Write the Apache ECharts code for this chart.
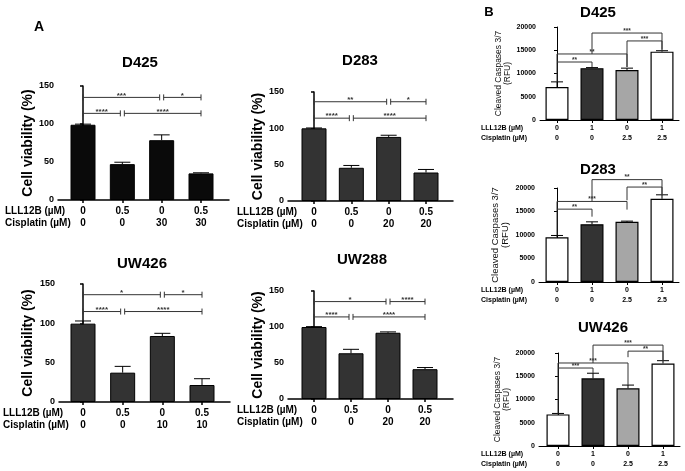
<!DOCTYPE html>
<html><head><meta charset="utf-8">
<script src="https://cdn.jsdelivr.net/npm/echarts@6/dist/echarts.min.js"></script>
<style>html,body{margin:0;padding:0;background:#fff}#c{width:685px;height:471px}</style>
</head><body><div id="c"></div>
<script>
// ---------------- DATA ----------------
const lllA = ['0', '0.5', '0', '0.5'];
const cisD425A = ['0', '0', '30', '30'];
const cisD283A = ['0', '0', '20', '20'];
const cisUW426A = ['0', '0', '10', '10'];
const cisUW288A = ['0', '0', '20', '20'];

const valD425A = [99, 47.2, 78.7, 35];
const errD425A = [0.8, 2.5, 7, 0.8];
const valD283A = [100, 45.7, 88.2, 39.2];
const errD283A = [0.5, 3.2, 2.3, 4.2];
const valUW426A = [99.6, 37.3, 83.9, 21.6];
const errUW426A = [3.4, 8, 3.4, 8];
const valUW288A = [100, 63.5, 92, 41.4];
const errUW288A = [0.5, 5.5, 1.2, 2.3];

// [from, to, level, label]
const sigD425A = [[0, 2, 135, '***'], [2, 3, 135, '*'], [0, 1, 114, '****'], [1, 3, 114, '****']];
const sigD283A = [[0, 2, 136.6, '**'], [2, 3, 136.6, '*'], [0, 1, 114, '****'], [1, 3, 114, '****']];
const sigUW426A = [[0, 2, 136.4, '*'], [2, 3, 136.4, '*'], [0, 1, 115, '****'], [1, 3, 115, '****']];
const sigUW288A = [[0, 2, 135.3, '*'], [2, 3, 135.3, '****'], [0, 1, 114, '****'], [1, 3, 114, '****']];

const lllB = ['0', '1', '0', '1'];
const cisB = ['0', '0', '2.5', '2.5'];
const valD425B = [7100, 11150, 10750, 14700];
const errD425B = [1100, 120, 400, 200];
const valD283B = [9500, 12300, 12800, 17700];
const errD283B = [400, 500, 150, 850];
const valUW426B = [6800, 14550, 12400, 17750];
const errUW426B = [200, 1100, 700, 600];

// [from, to, level, leftEnd, rightEnd, label]
const sigD425B = [[1, 3, 18700, 14200, 15100, '***'], [2, 3, 17000, 11400, 15100, '***'], [0, 2, 14200, 8200, 11400, '**'], [0, 1, 12470, 12470, 11400, '**']];
const sigD283B = [[1, 3, 21780, 17140, 18570, '**'], [2, 3, 20200, 17400, 18570, '**'], [0, 2, 17140, 9930, 15400, '***'], [0, 1, 15500, 15500, 13900, '**']];
const sigUW426B = [[1, 3, 21700, 17850, 18300, '***'], [2, 3, 20400, 19100, 18300, '**'], [0, 2, 17850, 6800, 13100, '***'], [0, 1, 16770, 16770, 15700, '***']];

const titles = ['D425', 'D283', 'UW426', 'UW288', 'D425', 'D283', 'UW426'];
const rowNames = ['LLL12B (\u00b5M)', 'Cisplatin (\u00b5M)'];
const yNameA = 'Cell viability (%)';
const yNameB = 'Cleaved Caspases 3/7\n(RFU)';

// ---------------- LAYOUT ----------------
const FONT = '"Liberation Sans", Arial, Helvetica, sans-serif';
const darkA = '#333333';
const panels = [
  {kind: 'A', title: titles[0], tx: 140, ty: 63, x0: 58, x1: 229, c0: 83, c3: 201, yTop: 86, yBot: 200, lll: lllA, cis: cisD425A, val: valD425A, err: errD425A, sig: sigD425A, colors: ['#0a0a0a', '#0a0a0a', '#0a0a0a', '#0a0a0a'], rowX: 5, nameGap: 22},
  {kind: 'A', title: titles[1], tx: 360, ty: 61, x0: 288, x1: 453, c0: 314, c3: 426, yTop: 92, yBot: 201, lll: lllA, cis: cisD283A, val: valD283A, err: errD283A, sig: sigD283A, colors: [darkA, darkA, darkA, darkA], rowX: 237, nameGap: 18},
  {kind: 'A', title: titles[2], tx: 142, ty: 264, x0: 59, x1: 230, c0: 83, c3: 202, yTop: 284, yBot: 402, lll: lllA, cis: cisUW426A, val: valUW426A, err: errUW426A, sig: sigUW426A, colors: [darkA, darkA, darkA, darkA], rowX: 3, nameGap: 24},
  {kind: 'A', title: titles[3], tx: 362, ty: 260, x0: 288, x1: 453, c0: 314, c3: 425, yTop: 291, yBot: 399, lll: lllA, cis: cisUW288A, val: valUW288A, err: errUW288A, sig: sigUW288A, colors: [darkA, darkA, darkA, darkA], rowX: 237, nameGap: 18},
  {kind: 'B', title: titles[4], tx: 598, ty: 13, x0: 540, x1: 679, c0: 557, c3: 662, yTop: 27, yBot: 120, lll: lllB, cis: cisB, val: valD425B, err: errD425B, sig: sigD425B, colors: ['#ffffff', '#333333', '#a6a6a6', '#ffffff'], rowX: 481, nameGap: 23, nameSize: 8.5},
  {kind: 'B', title: titles[5], tx: 598, ty: 170, x0: 539, x1: 679, c0: 557, c3: 662, yTop: 188, yBot: 282, lll: lllB, cis: cisB, val: valD283B, err: errD283B, sig: sigD283B, colors: ['#ffffff', '#333333', '#a6a6a6', '#ffffff'], rowX: 481, nameGap: 28, nameSize: 9.5},
  {kind: 'B', title: titles[6], tx: 603, ty: 328, x0: 539, x1: 680, c0: 558, c3: 663, yTop: 353, yBot: 446, lll: lllB, cis: cisB, val: valUW426B, err: errUW426B, sig: sigUW426B, colors: ['#ffffff', '#333333', '#a6a6a6', '#ffffff'], rowX: 481, nameGap: 27, nameSize: 8.5}
];

const grid = [], xAxis = [], yAxis = [], series = [], graphic = [];

graphic.push({type: 'text', x: 39, y: 27, style: {text: 'A', font: 'bold 14px ' + FONT, fill: '#000', textAlign: 'center', textVerticalAlign: 'middle'}});
graphic.push({type: 'text', x: 489, y: 12, style: {text: 'B', font: 'bold 13px ' + FONT, fill: '#000', textAlign: 'center', textVerticalAlign: 'middle'}});

panels.forEach((p, k) => {
  const isA = p.kind === 'A';
  const s = (p.c3 - p.c0) / 3;
  const xmin = -(p.c0 - p.x0) / s;
  const xmax = 3 + (p.x1 - p.c3) / s;
  const lineH = isA ? 12 : 10.5;
  const lblMargin = isA ? 5.5 : 2.5;
  const lblFont = isA ? 10 : 7;
  const axisW = isA ? 1.5 : 1;
  grid.push({left: p.x0, top: p.yTop, width: p.x1 - p.x0, height: p.yBot - p.yTop, containLabel: false});
  xAxis.push({
    type: 'value', gridIndex: k, min: xmin, max: xmax,
    axisLine: {show: true, onZero: false, lineStyle: {color: '#000', width: axisW}},
    axisTick: {show: true, length: 3, customValues: [0, 1, 2, 3], lineStyle: {color: '#000', width: axisW}},
    axisLabel: {
      show: true, customValues: [0, 1, 2, 3], margin: lblMargin,
      formatter: v => { const i = Math.round(v); return p.lll[i] + '\n' + p.cis[i]; },
      fontFamily: FONT, fontSize: lblFont, fontWeight: 'bold', color: '#000', lineHeight: lineH
    },
    splitLine: {show: false}
  });
  yAxis.push({
    type: 'value', gridIndex: k, min: 0, max: isA ? 150 : 20000, interval: isA ? 50 : 5000,
    name: isA ? yNameA : yNameB, nameLocation: 'middle', nameGap: p.nameGap,
    nameTextStyle: isA ? {fontFamily: FONT, fontSize: 14, fontWeight: 'bold', color: '#000'}
                       : {fontFamily: FONT, fontSize: p.nameSize, color: '#111', lineHeight: p.nameSize + 1},
    axisLine: {show: true, lineStyle: {color: '#000', width: axisW}},
    axisTick: {show: true, length: 3, lineStyle: {color: '#000', width: axisW}},
    axisLabel: {margin: 4, formatter: v => String(v), fontFamily: FONT, fontSize: isA ? 9 : 7, fontWeight: 'bold', color: '#000'},
    splitLine: {show: false}
  });
  series.push({
    type: 'bar', xAxisIndex: k, yAxisIndex: k, barWidth: isA ? 25 : 23, silent: true, z: 2,
    itemStyle: {borderColor: '#000', borderWidth: isA ? 1 : 1.2},
    data: p.val.map((v, i) => ({value: [i, v], itemStyle: {color: p.colors[i]}}))
  });
  const capHW = isA ? 8 : 6;
  series.push({
    type: 'custom', xAxisIndex: k, yAxisIndex: k, silent: true, z: 3, clip: false,
    data: p.val.map((v, i) => [i, v, p.err[i]]),
    renderItem: (params, api) => {
      const i = api.value(0), v = api.value(1), e = api.value(2);
      const a = api.coord([i, v]), b = api.coord([i, v + e]);
      const st = {stroke: '#000', lineWidth: 1};
      return {type: 'group', children: [
        {type: 'line', shape: {x1: a[0], y1: a[1], x2: b[0], y2: b[1]}, style: st},
        {type: 'line', shape: {x1: b[0] - capHW, y1: b[1], x2: b[0] + capHW, y2: b[1]}, style: st}
      ]};
    }
  });
  if (isA) {
    series.push({
      type: 'custom', xAxisIndex: k, yAxisIndex: k, silent: true, z: 4, clip: false,
      data: p.sig.map(b => [b[0], b[1], b[2]]),
      renderItem: (params, api) => {
        const i1 = api.value(0), i2 = api.value(1), lv = api.value(2);
        const lab = p.sig[params.dataIndex][3];
        const a = api.coord([i1, lv]), b = api.coord([i2, lv]);
        const xl = a[0] + (i1 > 0 ? 2 : 0), xr = b[0] - (i2 < 3 ? 2 : 0), y = a[1];
        const st = {stroke: '#333', lineWidth: 1};
        return {type: 'group', children: [
          {type: 'line', shape: {x1: xl, y1: y, x2: xr, y2: y}, style: st},
          {type: 'line', shape: {x1: xl, y1: y - 3, x2: xl, y2: y + 3}, style: st},
          {type: 'line', shape: {x1: xr, y1: y - 3, x2: xr, y2: y + 3}, style: st},
          {type: 'text', x: (xl + xr) / 2, y: y + 2, style: {text: lab, font: 'bold 8px ' + FONT, fill: '#333', textAlign: 'center', textVerticalAlign: 'bottom'}}
        ]};
      }
    });
  } else {
    series.push({
      type: 'custom', xAxisIndex: k, yAxisIndex: k, silent: true, z: 4, clip: false,
      data: p.sig.map(b => [b[0], b[1], b[2], b[3], b[4]]),
      renderItem: (params, api) => {
        const i1 = api.value(0), i2 = api.value(1), lv = api.value(2), le = api.value(3), re = api.value(4);
        const lab = p.sig[params.dataIndex][5];
        const a = api.coord([i1, lv]), b = api.coord([i2, lv]);
        const yl = api.coord([i1, le])[1], yr = api.coord([i2, re])[1];
        return {type: 'group', children: [
          {type: 'polyline', shape: {points: [[a[0], yl], [a[0], a[1]], [b[0], b[1]], [b[0], yr]]}, style: {stroke: '#333', lineWidth: 1, fill: null}},
          {type: 'text', x: (a[0] + b[0]) / 2, y: a[1] + 1.5, style: {text: lab, font: 'bold 6.5px ' + FONT, fill: '#333', textAlign: 'center', textVerticalAlign: 'bottom'}}
        ]};
      }
    });
  }
  // titles
  graphic.push({type: 'text', x: p.tx, y: p.ty, style: {text: p.title, font: 'bold 15px ' + FONT, fill: '#000', textAlign: 'center', textVerticalAlign: 'middle'}});
  // row headers
  const r1 = p.yBot + lblMargin + lineH / 2, r2 = r1 + lineH;
  [r1, r2].forEach((ry, j) => {
    graphic.push({type: 'text', x: p.rowX, y: ry, style: {text: rowNames[j], font: 'bold ' + lblFont + 'px ' + FONT, fill: '#000', textAlign: 'left', textVerticalAlign: 'middle'}});
  });
});

const chart = echarts.init(document.getElementById('c'), null, {renderer: 'canvas'});
chart.setOption({animation: false, backgroundColor: '#fff', grid, xAxis, yAxis, series, graphic});
</script></body></html>
